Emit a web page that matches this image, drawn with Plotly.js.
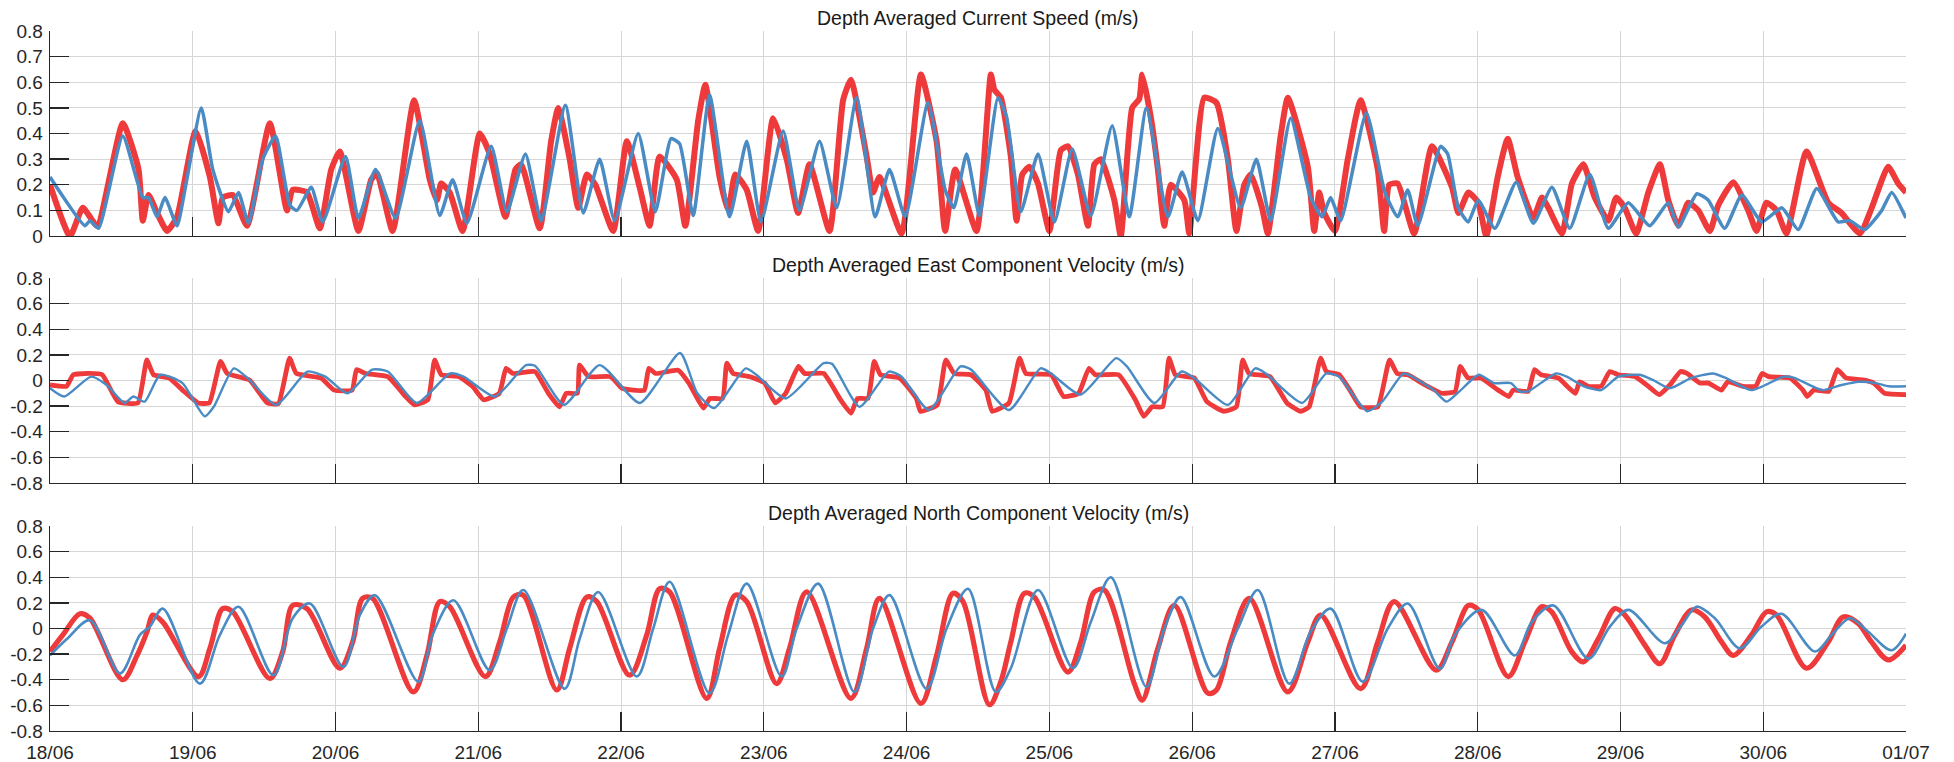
<!DOCTYPE html>
<html>
<head>
<meta charset="utf-8">
<script src="https://cdn.plot.ly/plotly-3.0.1.min.js"></script>
<style>html,body{margin:0;padding:0;background:#fff;}#chart{width:1954px;height:762px;}</style>
</head>
<body>
<div id="chart"></div>
<script>
// time axis: days since 18/06 00:00
const dayTicks = [0,1,2,3,4,5,6,7,8,9,10,11,12,13];
const dayLabels = ['18/06','19/06','20/06','21/06','22/06','23/06','24/06','25/06','26/06','27/06','28/06','29/06','30/06','01/07'];

const speedTicks = [0,0.1,0.2,0.3,0.4,0.5,0.6,0.7,0.8];
const speedTickText = ['0','0.1','0.2','0.3','0.4','0.5','0.6','0.7','0.8'];
const velTicks = [-0.8,-0.6,-0.4,-0.2,0,0.2,0.4,0.6,0.8];
const velTickText = ['-0.8','-0.6','-0.4','-0.2','0','0.2','0.4','0.6','0.8'];

const titles = ['Depth Averaged Current Speed (m/s)','Depth Averaged East Component Velocity (m/s)','Depth Averaged North Component Velocity (m/s)'];

// ---- Current speed, red series ----
const speedRedT = [0,0.14,0.23,0.33,0.51,0.62,0.65,0.69,0.75,0.82,0.89,1.02,1.12,1.18,1.21,1.28,1.38,1.54,1.66,1.70,1.80,1.89,1.97,2.03,2.16,2.25,2.29,2.40,2.55,2.66,2.71,2.74,2.80,2.89,3.01,3.08,3.19,3.26,3.30,3.43,3.51,3.56,3.64,3.70,3.76,3.82,3.945,4.04,4.13,4.20,4.27,4.39,4.45,4.54,4.59,4.69,4.75,4.80,4.88,4.96,5.065,5.16,5.24,5.32,5.46,5.555,5.61,5.72,5.765,5.81,5.965,6.10,6.21,6.27,6.34,6.49,6.59,6.615,6.66,6.73,6.77,6.81,6.86,6.92,7.00,7.08,7.13,7.20,7.27,7.315,7.36,7.455,7.50,7.58,7.63,7.65,7.71,7.76,7.805,7.85,7.945,7.98,8.085,8.17,8.25,8.31,8.365,8.41,8.49,8.53,8.62,8.67,8.81,8.855,8.89,8.925,9.00,9.09,9.18,9.30,9.345,9.38,9.44,9.555,9.68,9.82,9.865,9.935,10.004,10.06,10.14,10.21,10.28,10.39,10.45,10.495,10.59,10.66,10.74,10.82,10.915,10.97,11.03,11.11,11.195,11.276,11.335,11.405,11.475,11.545,11.626,11.685,11.79,11.895,11.953,12.023,12.093,12.163,12.303,12.455,12.548,12.677,12.76,12.875,12.945,13.0];
const speedRedV = [0.20,0.00,0.11,0.04,0.44,0.26,0.06,0.16,0.09,0.02,0.075,0.41,0.23,0.05,0.15,0.16,0.04,0.44,0.10,0.18,0.17,0.03,0.26,0.33,0.02,0.22,0.245,0.02,0.53,0.22,0.14,0.205,0.17,0.02,0.40,0.32,0.075,0.26,0.28,0.03,0.37,0.50,0.30,0.11,0.24,0.20,0.02,0.37,0.19,0.04,0.31,0.22,0.04,0.45,0.59,0.23,0.10,0.24,0.18,0.02,0.46,0.30,0.09,0.28,0.02,0.53,0.61,0.31,0.17,0.23,0.01,0.63,0.37,0.02,0.26,0.02,0.63,0.57,0.54,0.31,0.06,0.24,0.27,0.205,0.02,0.335,0.35,0.24,0.04,0.28,0.30,0.14,0.00,0.50,0.535,0.63,0.465,0.26,0.04,0.20,0.14,0.01,0.54,0.52,0.30,0.02,0.20,0.24,0.11,0.01,0.39,0.54,0.27,0.02,0.17,0.09,0.02,0.30,0.53,0.26,0.02,0.20,0.205,0.01,0.35,0.19,0.09,0.17,0.13,0.00,0.23,0.38,0.23,0.07,0.15,0.11,0.01,0.205,0.28,0.15,0.06,0.15,0.11,0.01,0.17,0.28,0.14,0.04,0.13,0.10,0.02,0.12,0.21,0.10,0.02,0.13,0.10,0.01,0.33,0.13,0.09,0.01,0.11,0.27,0.205,0.17];

// ---- Current speed, blue series ----
const speedBlueT = [0,0.245,0.28,0.34,0.51,0.65,0.69,0.75,0.805,0.89,0.945,1.06,1.14,1.25,1.32,1.39,1.49,1.58,1.68,1.73,1.83,1.91,2.07,2.16,2.28,2.42,2.59,2.73,2.82,2.92,3.09,3.20,3.33,3.44,3.61,3.735,3.85,3.955,4.12,4.24,4.35,4.41,4.505,4.62,4.76,4.88,4.98,5.135,5.25,5.39,5.51,5.65,5.78,5.88,5.99,6.15,6.27,6.33,6.42,6.51,6.64,6.70,6.80,6.92,7.035,7.16,7.29,7.44,7.56,7.68,7.83,7.93,8.04,8.18,8.34,8.45,8.55,8.69,8.83,8.91,8.97,9.04,9.22,9.35,9.44,9.51,9.58,9.74,9.79,9.864,9.934,10.004,10.12,10.27,10.39,10.52,10.645,10.785,10.915,11.055,11.205,11.335,11.405,11.535,11.615,11.73,11.85,11.99,12.13,12.245,12.375,12.525,12.607,12.71,12.83,12.90,13.0];
const speedBlueV = [0.23,0.04,0.06,0.03,0.39,0.15,0.15,0.075,0.15,0.04,0.18,0.50,0.26,0.095,0.17,0.05,0.30,0.39,0.12,0.10,0.19,0.055,0.31,0.07,0.26,0.07,0.45,0.08,0.22,0.05,0.35,0.095,0.32,0.06,0.51,0.09,0.30,0.06,0.40,0.095,0.38,0.36,0.08,0.55,0.075,0.37,0.055,0.41,0.10,0.37,0.11,0.54,0.075,0.26,0.075,0.52,0.18,0.11,0.32,0.08,0.54,0.465,0.095,0.32,0.055,0.34,0.08,0.43,0.075,0.50,0.075,0.25,0.06,0.42,0.11,0.30,0.06,0.46,0.15,0.075,0.15,0.06,0.48,0.17,0.075,0.18,0.04,0.35,0.32,0.11,0.055,0.14,0.03,0.21,0.05,0.19,0.03,0.24,0.03,0.13,0.04,0.13,0.035,0.165,0.14,0.03,0.16,0.055,0.11,0.025,0.185,0.055,0.06,0.025,0.10,0.17,0.07];

// ---- East component, red series ----
const eastRedT = [0,0.116,0.163,0.272,0.366,0.475,0.616,0.678,0.725,0.834,0.928,1.038,1.116,1.194,1.241,1.397,1.522,1.60,1.678,1.725,1.897,1.99,2.116,2.147,2.209,2.366,2.491,2.553,2.647,2.694,2.741,2.866,2.959,3.038,3.147,3.194,3.241,3.397,3.491,3.569,3.616,3.694,3.709,3.772,3.928,4.006,4.084,4.163,4.194,4.241,4.40,4.475,4.578,4.622,4.711,4.74,4.785,4.903,5.006,5.08,5.153,5.242,5.286,5.419,5.537,5.611,5.655,5.729,5.773,5.817,5.95,6.068,6.097,6.215,6.274,6.333,6.451,6.555,6.599,6.717,6.791,6.835,7.012,7.10,7.204,7.277,7.322,7.484,7.602,7.661,7.72,7.794,7.838,7.882,8.015,8.103,8.221,8.31,8.354,8.398,8.546,8.664,8.76,8.82,8.90,8.94,9.03,9.105,9.18,9.30,9.382,9.436,9.511,9.632,9.752,9.842,9.878,9.932,10.023,10.143,10.218,10.248,10.353,10.398,10.444,10.564,10.684,10.714,10.774,10.865,10.925,10.985,11.105,11.195,11.271,11.346,11.421,11.466,11.556,11.617,11.707,11.752,11.857,11.947,11.992,12.038,12.188,12.278,12.308,12.353,12.459,12.519,12.579,12.699,12.774,12.85,13.0];
const eastRedV = [-0.035,-0.045,0.045,0.055,0.045,-0.165,-0.175,0.16,0.045,0.02,-0.075,-0.175,-0.175,0.15,0.055,0.005,-0.175,-0.18,0.175,0.055,0.02,-0.075,-0.075,0.085,0.055,0.03,-0.125,-0.19,-0.15,0.16,0.045,0.03,-0.045,-0.15,-0.10,0.095,0.055,0.07,-0.10,-0.205,-0.10,-0.10,0.12,0.03,0.03,-0.06,-0.075,-0.075,0.095,0.055,0.08,-0.02,-0.215,-0.14,-0.14,0.135,0.055,0.03,-0.02,-0.175,-0.10,0.11,0.055,0.055,-0.15,-0.255,-0.14,-0.14,0.15,0.045,0.02,-0.14,-0.24,-0.19,0.16,0.055,0.045,-0.075,-0.24,-0.175,0.175,0.055,0.045,-0.125,-0.10,0.095,0.045,0.045,-0.15,-0.28,-0.205,-0.205,0.175,0.045,0.02,-0.165,-0.24,-0.205,0.16,0.055,0.03,-0.175,-0.24,-0.205,0.175,0.07,0.045,-0.075,-0.205,-0.205,0.16,0.055,0.045,-0.035,-0.10,-0.085,0.11,0.02,0.02,-0.075,-0.125,-0.075,-0.085,0.085,0.045,0.02,-0.10,-0.01,-0.045,-0.045,0.07,0.045,0.03,-0.045,-0.11,-0.035,0.07,0.055,-0.02,-0.02,-0.075,-0.01,-0.045,-0.045,0.055,0.03,0.02,-0.075,-0.125,-0.075,-0.085,0.085,0.02,0.005,-0.02,-0.10,-0.11];

// ---- East component, blue series ----
const eastBlueT = [0,0.10,0.288,0.397,0.522,0.584,0.663,0.772,0.928,0.99,1.084,1.147,1.288,1.397,1.584,1.803,1.928,2.084,2.256,2.366,2.569,2.803,2.897,3.116,3.334,3.397,3.60,3.85,4.131,4.413,4.534,4.652,4.873,4.947,5.153,5.419,5.478,5.67,5.876,5.965,6.156,6.378,6.451,6.717,6.938,7.012,7.218,7.469,7.543,7.735,7.926,8.015,8.251,8.442,8.516,8.77,8.94,9.03,9.135,9.226,9.331,9.481,9.541,9.692,9.782,9.872,10.008,10.113,10.233,10.293,10.353,10.549,10.624,10.744,10.865,10.985,11.135,11.226,11.346,11.496,11.647,11.737,11.917,12.143,12.218,12.414,12.549,12.669,12.789,12.88,13.0];
const eastBlueV = [-0.06,-0.125,0.03,-0.035,-0.175,-0.125,-0.165,0.045,-0.02,-0.125,-0.28,-0.205,0.095,0.005,-0.19,0.07,0.03,-0.10,0.085,0.07,-0.175,0.055,0.03,-0.125,0.12,0.115,-0.19,0.12,-0.175,0.215,-0.10,-0.215,0.095,0.045,-0.14,0.135,0.13,-0.205,0.07,0.03,-0.23,0.11,0.085,-0.23,0.095,0.055,-0.11,0.175,0.11,-0.175,0.07,0.02,-0.19,0.095,0.055,-0.175,0.055,0.03,-0.125,-0.24,-0.165,0.055,0.03,-0.075,-0.165,-0.085,0.045,-0.02,-0.02,-0.085,-0.085,0.055,0.03,-0.045,-0.075,0.03,0.045,0.005,-0.06,0.02,0.055,0.02,-0.075,0.03,0.02,-0.075,-0.035,-0.01,-0.02,-0.045,-0.045];

// ---- North component, red series ----
const northRedT = [0,0.09,0.21,0.28,0.51,0.61,0.68,0.72,0.79,1.04,1.12,1.21,1.28,1.54,1.63,1.70,1.80,2.03,2.12,2.19,2.26,2.545,2.64,2.73,2.80,3.05,3.15,3.245,3.315,3.55,3.64,3.76,3.83,4.06,4.18,4.27,4.34,4.60,4.69,4.80,4.88,5.09,5.18,5.30,5.61,5.72,5.81,6.10,6.21,6.325,6.395,6.58,6.66,6.73,6.825,6.895,7.13,7.22,7.315,7.385,7.595,7.65,7.76,7.875,8.11,8.17,8.27,8.40,8.67,8.81,8.90,9.18,9.30,9.415,9.71,9.82,9.935,10.004,10.214,10.33,10.448,10.518,10.658,10.74,10.845,10.961,11.031,11.171,11.276,11.381,11.498,11.591,11.708,11.79,11.918,12.023,12.093,12.303,12.455,12.56,12.665,12.758,12.875,13.0];
const northRedV = [-0.18,-0.05,0.115,0.08,-0.40,-0.21,-0.025,0.105,0.05,-0.375,-0.155,0.155,0.13,-0.39,-0.18,0.18,0.155,-0.31,-0.105,0.235,0.235,-0.495,-0.21,0.21,0.17,-0.375,-0.105,0.245,0.26,-0.48,-0.155,0.245,0.21,-0.365,-0.05,0.31,0.285,-0.545,-0.155,0.26,0.21,-0.43,-0.155,0.285,-0.545,-0.155,0.235,-0.585,-0.21,0.275,0.21,-0.595,-0.415,-0.105,0.275,0.245,-0.34,-0.105,0.285,0.30,-0.43,-0.56,-0.155,0.18,-0.505,-0.48,-0.105,0.235,-0.495,-0.105,0.105,-0.47,-0.105,0.21,-0.325,-0.105,0.18,0.145,-0.375,-0.105,0.17,0.13,-0.18,-0.26,-0.08,0.155,0.105,-0.13,-0.275,-0.05,0.145,0.09,-0.105,-0.21,-0.05,0.13,0.105,-0.31,-0.105,0.09,0.04,-0.105,-0.245,-0.13];

// ---- North component, blue series ----
const northBlueT = [0,0.12,0.28,0.49,0.63,0.70,0.79,1.05,1.19,1.32,1.565,1.70,1.82,2.055,2.17,2.275,2.58,2.68,2.825,3.08,3.20,3.315,3.605,3.71,3.84,4.11,4.225,4.34,4.62,4.75,4.88,5.125,5.23,5.38,5.635,5.765,5.88,6.14,6.28,6.43,6.625,6.73,6.92,7.165,7.29,7.43,7.68,7.805,7.92,8.155,8.32,8.46,8.68,8.83,8.97,9.195,9.37,9.51,9.735,9.84,10.027,10.26,10.378,10.53,10.775,10.926,11.055,11.311,11.428,11.533,11.661,11.836,11.988,12.128,12.362,12.479,12.607,12.735,12.898,13.0];
const northBlueV = [-0.21,-0.08,0.065,-0.35,-0.05,0.015,0.155,-0.43,-0.05,0.17,-0.365,0.08,0.195,-0.30,0.105,0.26,-0.415,-0.05,0.22,-0.325,0.0,0.30,-0.47,-0.08,0.285,-0.375,0.0,0.365,-0.505,-0.05,0.35,-0.375,0.0,0.35,-0.495,0.0,0.26,-0.47,0.0,0.31,-0.495,-0.31,0.30,-0.31,0.05,0.40,-0.455,0.0,0.245,-0.375,0.0,0.30,-0.43,-0.025,0.155,-0.415,0.0,0.195,-0.315,-0.05,0.145,-0.21,0.05,0.18,-0.235,0.015,0.145,-0.115,0.025,0.17,0.08,-0.155,0.015,0.115,-0.18,-0.05,0.08,-0.025,-0.17,-0.04];

const RED = '#EE3A3A';
const BLUE = '#4A8BC4';
const FONT = 'Liberation Sans, Arial, Helvetica, sans-serif';
const TXT = '#262626';
const GRID = '#d6d6d6';

function line(x, y, xa, ya, color, width, smoothing) {
  return {x: x, y: y, xaxis: xa, yaxis: ya, type: 'scatter', mode: 'lines',
          line: {color: color, width: width, shape: 'spline', smoothing: smoothing},
          hoverinfo: 'skip', showlegend: false};
}

const data = [
  line(speedRedT, speedRedV, 'x', 'y', RED, 6, 0.5),
  line(speedBlueT, speedBlueV, 'x', 'y', BLUE, 3.5, 0.5),
  line(eastRedT, eastRedV, 'x2', 'y2', RED, 4.8, 0.4),
  line(eastBlueT, eastBlueV, 'x2', 'y2', BLUE, 2.4, 0.6),
  line(northRedT, northRedV, 'x3', 'y3', RED, 5.2, 0.9),
  line(northBlueT, northBlueV, 'x3', 'y3', BLUE, 2.6, 0.9)
];

function xax(anchor, labels) {
  return {domain: [0, 1], anchor: anchor, range: [0, 13], tickmode: 'array',
          tickvals: dayTicks, ticktext: dayLabels, showticklabels: labels,
          ticks: 'inside', ticklen: 19, tickwidth: 1.3, tickcolor: TXT,
          showline: true, linecolor: TXT, linewidth: 1.3, mirror: false,
          showgrid: true, gridcolor: GRID, gridwidth: 1, zeroline: false,
          tickfont: {family: FONT, size: 19, color: TXT}, ticklabelstandoff: 4};
}
function yax(anchor, dom, rng, tv, tt) {
  return {domain: dom, anchor: anchor, range: rng, tickmode: 'array',
          tickvals: tv, ticktext: tt, ticks: 'inside', ticklen: 19, tickwidth: 1.3,
          tickcolor: TXT, showline: true, linecolor: TXT, linewidth: 1.3,
          showgrid: true, gridcolor: GRID, gridwidth: 1, zeroline: false,
          tickfont: {family: FONT, size: 19, color: TXT}, ticklabelstandoff: 2};
}

const doms = [[0.7071, 1.0], [0.3543, 0.6471], [0.0, 0.2929]];

const layout = {
  width: 1954, height: 762,
  margin: {l: 50, r: 48, t: 31, b: 31},
  paper_bgcolor: '#ffffff', plot_bgcolor: '#ffffff',
  font: {family: FONT, color: TXT},
  xaxis: xax('y', false),
  xaxis2: xax('y2', false),
  xaxis3: xax('y3', true),
  yaxis: yax('x', doms[0], [0, 0.8], speedTicks, speedTickText),
  yaxis2: yax('x2', doms[1], [-0.8, 0.8], velTicks, velTickText),
  yaxis3: yax('x3', doms[2], [-0.8, 0.8], velTicks, velTickText),
  annotations: titles.map(function (t, i) {
    return {text: t, xref: 'paper', yref: 'paper', x: 0.5, y: doms[i][1],
            xanchor: 'center', yanchor: 'bottom', showarrow: false, yshift: 0,
            font: {family: FONT, size: 19.5, color: '#1a1a1a'}};
  })
};

Plotly.newPlot('chart', data, layout, {staticPlot: true, displayModeBar: false});
</script>
</body>
</html>
